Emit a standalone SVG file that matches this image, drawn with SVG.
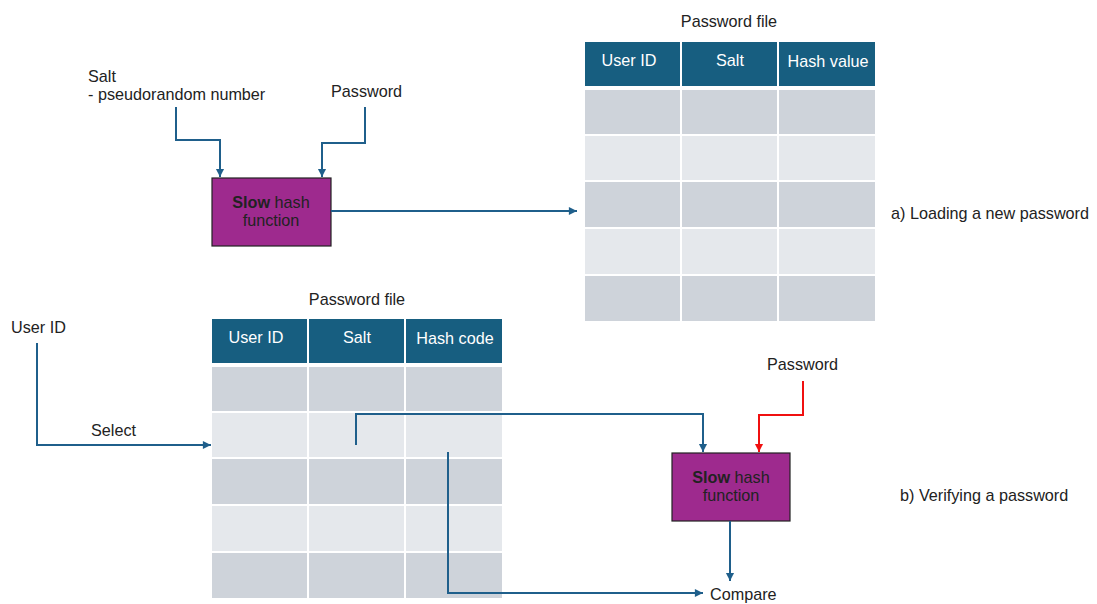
<svg xmlns="http://www.w3.org/2000/svg" width="1097" height="604" viewBox="0 0 1097 604">
<style>
text{font-family:"Liberation Sans",Arial,sans-serif;font-size:16.2px;fill:#222}
.hd{fill:#175e80}
.hdt{fill:#fff;text-anchor:middle}
.g{fill:#ced3da}
.l{fill:#e5e8ec}
.box{fill:#9e2a8e;stroke:#222;stroke-width:1.2}
.c{text-anchor:middle}
.ln{fill:none;stroke:#1f5f8b;stroke-width:2}
.red{fill:none;stroke:#f01010;stroke-width:2}
</style>
<defs>
<marker id="ab" viewBox="0 0 10 10" refX="10" refY="5" markerWidth="6" markerHeight="6" orient="auto" markerUnits="userSpaceOnUse" overflow="visible"><path d="M0,0 L10,5 L0,10 z" fill="#1f5f8b" transform="scale(1.35) translate(-2.6,-1.3)"/></marker>
<marker id="ar" viewBox="0 0 10 10" refX="10" refY="5" markerWidth="6" markerHeight="6" orient="auto" markerUnits="userSpaceOnUse" overflow="visible"><path d="M0,0 L10,5 L0,10 z" fill="#f01010" transform="scale(1.35) translate(-2.6,-1.3)"/></marker>
<g id="tbl">
<rect class="hd" x="0" y="0" width="95" height="44"/>
<rect class="hd" x="97" y="0" width="95" height="44"/>
<rect class="hd" x="194" y="0" width="96" height="44"/>
<rect class="g" x="0" y="48" width="95" height="44"/><rect class="g" x="97" y="48" width="95" height="44"/><rect class="g" x="194" y="48" width="96" height="44"/>
<rect class="l" x="0" y="94" width="95" height="44"/><rect class="l" x="97" y="94" width="95" height="44"/><rect class="l" x="194" y="94" width="96" height="44"/>
<rect class="g" x="0" y="140" width="95" height="45"/><rect class="g" x="97" y="140" width="95" height="45"/><rect class="g" x="194" y="140" width="96" height="45"/>
<rect class="l" x="0" y="187" width="95" height="45"/><rect class="l" x="97" y="187" width="95" height="45"/><rect class="l" x="194" y="187" width="96" height="45"/>
<rect class="g" x="0" y="234" width="95" height="45"/><rect class="g" x="97" y="234" width="95" height="45"/><rect class="g" x="194" y="234" width="96" height="45"/>
</g>
</defs>

<g id="table-a">
<use href="#tbl" x="585" y="42"/>
<text class="c" x="729" y="27">Password file</text>
<text class="hdt" x="629" y="66">User ID</text>
<text class="hdt" x="730" y="66">Salt</text>
<text class="hdt" x="828" y="67">Hash value</text>
</g>

<g id="table-b">
<use href="#tbl" x="212" y="319"/>
<text class="c" x="357" y="305">Password file</text>
<text class="hdt" x="256" y="343">User ID</text>
<text class="hdt" x="357" y="343">Salt</text>
<text class="hdt" x="455" y="344">Hash code</text>
</g>

<g id="hash-a">
<rect class="box" x="212" y="178" width="119" height="68"/>
<text class="c" x="271" y="208"><tspan font-weight="bold">Slow</tspan> hash</text>
<text class="c" x="271" y="226">function</text>
</g>

<g id="hash-b">
<rect class="box" x="672" y="453" width="118" height="68"/>
<text class="c" x="731" y="483"><tspan font-weight="bold">Slow</tspan> hash</text>
<text class="c" x="731" y="501">function</text>
</g>

<g id="labels">
<text x="88" y="82">Salt</text>
<text x="88" y="100">- pseudorandom number</text>
<text x="331" y="97">Password</text>
<text x="891" y="219">a) Loading a new password</text>
<text x="11" y="333">User ID</text>
<text x="91" y="436">Select</text>
<text x="767" y="370">Password</text>
<text x="710" y="600">Compare</text>
<text x="900" y="501">b) Verifying a password</text>
</g>

<g id="connectors">
<path class="ln" d="M176,107 V140 H220 V177" marker-end="url(#ab)"/>
<path class="ln" d="M365,107 V143 H322 V177" marker-end="url(#ab)"/>
<path class="ln" d="M331,211 H577" marker-end="url(#ab)"/>
<path class="ln" d="M37,343 V445 H211" marker-end="url(#ab)"/>
<path class="ln" d="M356,445 V414 H703 V452" marker-end="url(#ab)"/>
<path class="red" d="M803,381 V415 H759 V452" marker-end="url(#ar)"/>
<path class="ln" d="M730,521 V581" marker-end="url(#ab)"/>
<path class="ln" d="M448,452 V593 H703" marker-end="url(#ab)"/>
</g>
</svg>
